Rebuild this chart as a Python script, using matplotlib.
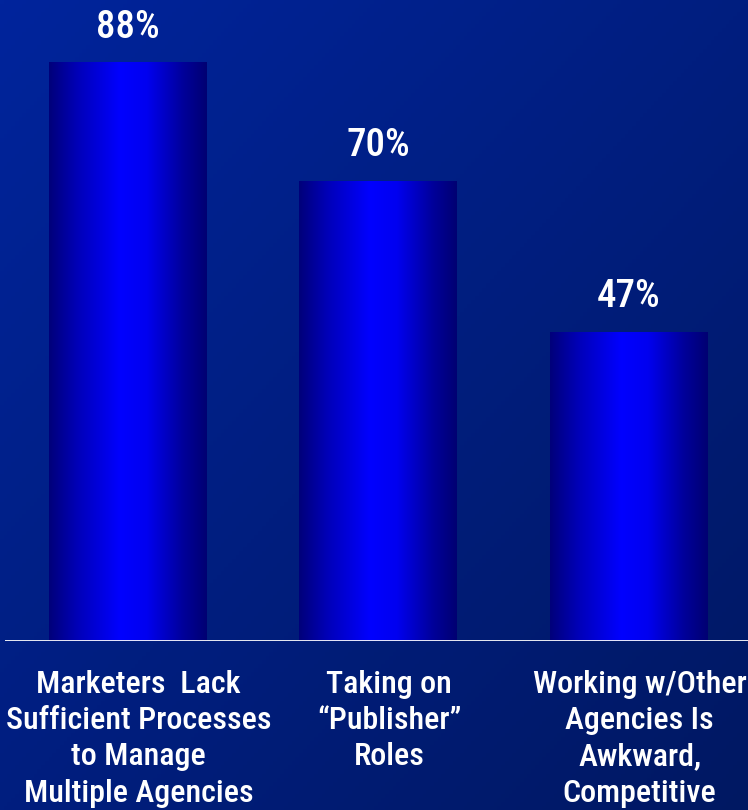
import numpy as np
import matplotlib.pyplot as plt
from matplotlib.colors import LinearSegmentedColormap

# survey results
categories = [
    "Marketers  Lack\nSufficient Processes\nto Manage\nMultiple Agencies",
    "Taking on\n\u201cPublisher\u201d\nRoles",
    "Working w/Other\nAgencies Is\nAwkward,\nCompetitive",
]
values = [88, 70, 47]
value_labels = ["88%", "70%", "47%"]

plt.rcParams['font.family'] = ['Roboto Condensed', 'Liberation Sans', 'DejaVu Sans']

W, H = 748, 810
fig = plt.figure(figsize=(W / 100, H / 100), dpi=100)

# diagonal background gradient
bg = fig.add_axes([0, 0, 1, 1])
yy, xx = np.mgrid[0:1:200j, 0:1:200j]
t = (xx * 0.5 + yy * 0.5)
top = np.array([0x00, 0x24, 0x9c]) / 255
bot = np.array([0x00, 0x18, 0x62]) / 255
img = top[None, None, :] * (1 - t[..., None]) + bot[None, None, :] * t[..., None]
bg.imshow(img, extent=[0, 1, 0, 1], aspect='auto', origin='upper')
bg.set_axis_off()

# main axes, baseline at y=641 px
base_px = 641
px_per_pct = 6.57
ax = fig.add_axes([5 / W, (H - base_px) / H, 1 - 5 / W, base_px / H])
ax.patch.set_alpha(0)

bar_cmap = LinearSegmentedColormap.from_list(
    'bar', [(0.0, '#00007a'), (0.18, '#0000b8'), (0.45, '#0000ff'),
            (0.62, '#0000f0'), (0.85, '#00009a'), (1.0, '#000072')])
grad = np.linspace(0, 1, 256)[None, :]
width = 0.63
x = np.arange(len(values))
for xi, v, lab in zip(x, values, value_labels):
    ax.imshow(grad, cmap=bar_cmap, aspect='auto',
              extent=[xi - width / 2, xi + width / 2, 0, v], zorder=2)
    ax.annotate(lab, xy=(xi, v), xytext=(0, 18), textcoords='offset points',
                ha='center', va='baseline', color='white', fontsize=28,
                fontweight='medium')

for xi, cat in zip(x, categories):
    ax.annotate(cat, xy=(xi, 0), xytext=(8, -21), textcoords='offset points',
                ha='center', va='top', color='white', fontsize=23,
                fontweight='medium', linespacing=1.31, annotation_clip=False)

ax.axhline(0, color='white', lw=2, zorder=3)
ax.set_xlim(-0.489, 2.477)
ax.set_ylim(0, base_px / px_per_pct)
ax.set_axis_off()

fig.savefig('out.png', dpi=100)
